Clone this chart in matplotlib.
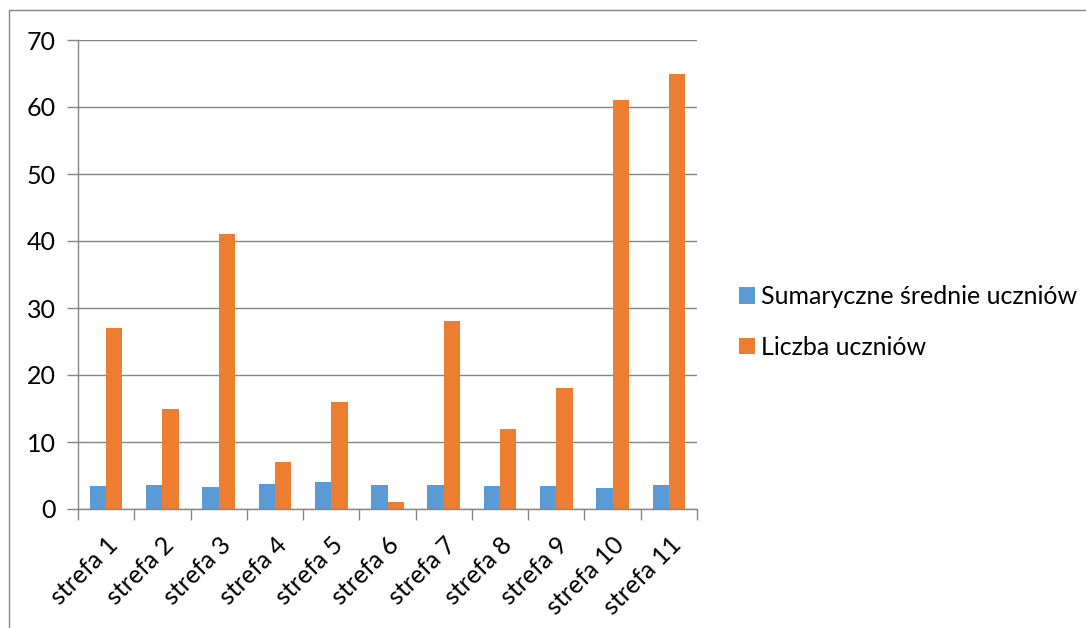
import matplotlib
matplotlib.use("Agg")
import matplotlib.pyplot as plt
import numpy as np
from matplotlib.patches import Rectangle

categories = ["strefa 1", "strefa 2", "strefa 3", "strefa 4", "strefa 5", "strefa 6",
              "strefa 7", "strefa 8", "strefa 9", "strefa 10", "strefa 11"]
srednie = [3.47, 3.62, 3.28, 3.72, 3.96, 3.57, 3.62, 3.37, 3.47, 3.18, 3.62]
liczba = [27, 15, 41, 7, 16, 1, 28, 12, 18, 61, 65]
yticks = [0, 10, 20, 30, 40, 50, 60, 70]

plt.rcParams['font.family'] = ['Lato', 'DejaVu Sans']
FS = 18

fig = plt.figure(figsize=(10.86, 6.28), dpi=100)
ax = fig.add_axes([78/1086, 1 - 509/628, (697-78)/1086, (509-40)/628])

x = np.arange(len(categories))
w = 0.29
ax.bar(x - w/2, srednie, w, color="#5B9BD5", label="Sumaryczne średnie uczniów")
ax.bar(x + w/2, liczba, w, color="#ED7D31", label="Liczba uczniów")

ax.set_xlim(-0.5, len(categories) - 0.5)
ax.set_ylim(0, 70)
ax.set_yticks(yticks)
ax.set_yticklabels([str(v) for v in yticks], fontsize=FS)
ax.set_xticks(x)
ax.set_xticklabels(categories, rotation=45, ha="right", va="top", fontsize=FS,
                   rotation_mode="anchor")
ax.tick_params(axis="x", which="major", length=0, pad=17)
ax.set_xticks(np.arange(-0.5, len(categories)), minor=True)
ax.tick_params(axis="x", which="minor", length=8, color="#868686", width=1)
ax.tick_params(axis="y", length=8, color="#868686", width=1, pad=8)
ax.grid(axis="y", color="#868686", linewidth=1)
ax.set_axisbelow(True)
for s in ["top", "right"]:
    ax.spines[s].set_visible(False)
for s in ["left", "bottom"]:
    ax.spines[s].set_color("#868686")
    ax.spines[s].set_linewidth(1)

fig.legend(loc="center left", bbox_to_anchor=(716/1086, 1 - 322/628), frameon=False,
           fontsize=FS, handlelength=0.65, handleheight=0.65, handletextpad=0.25,
           labelspacing=1.1)

fig.patches.append(Rectangle((9/1086, -0.1), 1.2, 1 - 10/628 + 0.1, transform=fig.transFigure,
                             fill=False, edgecolor="#868686", linewidth=1))

fig.savefig("out.png", dpi=100)
